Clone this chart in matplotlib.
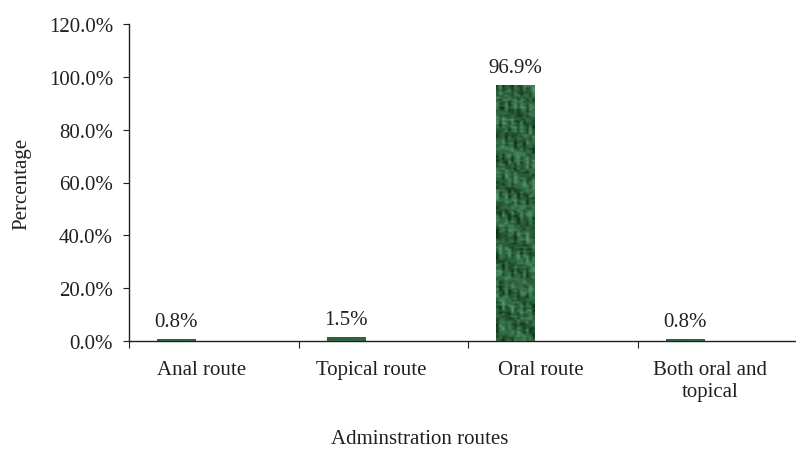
import numpy as np
import matplotlib.pyplot as plt
from matplotlib.ticker import FuncFormatter

# datos del grafico
rutas = ['Anal route', 'Topical route', 'Oral route', 'Both oral and\ntopical']
porcentajes = [0.8, 1.5, 96.9, 0.8]
etiquetas = ['0.8%', '1.5%', '96.9%', '0.8%']

plt.rcParams['font.family'] = ['Liberation Serif', 'DejaVu Serif']
fs = 15

fig = plt.figure(figsize=(7.96, 4.52), dpi=100)
W, H = 796, 452
x0, x1, y0, y1 = 129, 807, 342, 25
ax = fig.add_axes([x0 / W, 1 - y0 / H, (x1 - x0) / W, (y0 - y1) / H])

pos = np.arange(len(rutas)) + 0.28
barras = ax.bar(pos, porcentajes, width=0.225, color='#1e5a34', zorder=2)

# textura verde moteada dentro de las barras
yy, xx = np.mgrid[0:130, 0:13]
ruido = (np.sin(xx * 12.9898 + yy * 78.233) * 43758.5453) % 1.0
manchas = (np.sin(xx * 0.9 + yy * 0.31) * np.cos(yy * 0.17 - xx * 1.3)
           + 0.5 * np.sin(xx * 2.3 - yy * 0.53)) * 0.3
valor = np.clip(0.5 * ruido + 0.25 + manchas, 0, 1)
oscuro = np.array([0.05, 0.18, 0.09])
claro = np.array([0.32, 0.60, 0.40])
textura = oscuro + valor[..., None] * (claro - oscuro)
for b in barras:
    im = ax.imshow(textura, extent=[b.get_x(), b.get_x() + b.get_width(), 0, b.get_height()],
                   aspect='auto', interpolation='bilinear', zorder=3)
    im.set_clip_path(b)

for b, txt in zip(barras, etiquetas):
    ax.annotate(txt, (b.get_x() + b.get_width() / 2, b.get_height()),
                xytext=(0, 6), textcoords='offset points', ha='center', va='bottom',
                fontsize=fs, color='#231f20')

ax.set_xlim(0, 4)
ax.set_ylim(0, 120)
ax.set_yticks(np.arange(0, 121, 20))
ax.yaxis.set_major_formatter(FuncFormatter(lambda v, p: f'{v:.1f}%'))
ax.set_xticks(np.arange(0, 5))
ax.set_xticklabels([])
ax.set_xticks(np.arange(len(rutas)) + 0.43, minor=True)
ax.set_xticklabels(rutas, minor=True)
ax.tick_params(axis='x', which='minor', length=0, pad=14, labelsize=fs, colors='#231f20')
ax.tick_params(axis='x', which='major', length=5, direction='out', color='#231f20')
ax.tick_params(axis='y', length=4.5, direction='out', pad=7, labelsize=fs,
               colors='#231f20')

for s in ['top', 'right']:
    ax.spines[s].set_visible(False)
for s in ['left', 'bottom']:
    ax.spines[s].set_color('#231f20')
    ax.spines[s].set_linewidth(1.0)

fig.text(22 / W, 1 - 184 / H, 'Percentage', rotation=90, ha='center', va='center',
         fontsize=fs, color='#231f20')
fig.text(420 / W, 1 - 440 / H, 'Adminstration routes', ha='center', va='center',
         fontsize=fs, color='#231f20')

fig.savefig('out.png', dpi=100)
